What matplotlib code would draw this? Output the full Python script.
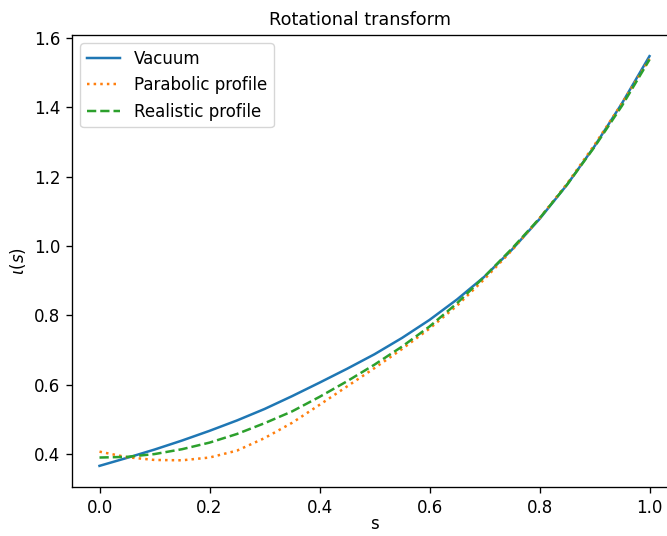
import matplotlib
matplotlib.use("Agg")
import matplotlib.pyplot as plt

s = [0.0, 0.05, 0.1, 0.15, 0.2, 0.25, 0.3, 0.35, 0.4, 0.45, 0.5,
     0.55, 0.6, 0.65, 0.7, 0.75, 0.8, 0.85, 0.9, 0.95, 1.0]

vacuum = [0.366, 0.389, 0.413, 0.439, 0.467, 0.497, 0.530, 0.567, 0.606, 0.646, 0.688,
          0.735, 0.787, 0.846, 0.912, 0.990, 1.078, 1.177, 1.288, 1.412, 1.548]

parabolic = [0.407, 0.391, 0.383, 0.382, 0.390, 0.410, 0.446, 0.490, 0.542, 0.595, 0.648,
             0.703, 0.762, 0.828, 0.905, 0.988, 1.080, 1.180, 1.292, 1.412, 1.540]

realistic = [0.390, 0.392, 0.400, 0.414, 0.433, 0.458, 0.489, 0.523, 0.565, 0.610, 0.658,
             0.710, 0.768, 0.835, 0.912, 0.993, 1.080, 1.177, 1.286, 1.405, 1.538]

k = 1.2
plt.rcParams.update({
    'font.size': 10 * k,
    'axes.linewidth': 0.8 * k,
    'xtick.major.width': 0.8 * k,
    'ytick.major.width': 0.8 * k,
    'xtick.major.size': 3.5 * k,
    'ytick.major.size': 3.5 * k,
    'xtick.major.pad': 3.5 * k,
    'ytick.major.pad': 3.5 * k,
    'lines.linewidth': 1.5 * k,
})

fig = plt.figure(figsize=(6.67, 5.36), dpi=100)
ax = fig.add_axes([72 / 667, (536 - 487) / 536, (677 - 72) / 667, (487 - 35) / 536])

ax.plot(s, vacuum, '-', color='#1f77b4', label='Vacuum')
ax.plot(s, parabolic, ':', color='#ff7f0e', label='Parabolic profile')
ax.plot(s, realistic, '--', color='#2ca02c', label='Realistic profile')

ax.set_xlim(-0.05, 1.05)
ax.set_ylim(0.305, 1.609)
ax.set_title('Rotational transform', fontsize=12.7, pad=7, x=(360 - 72) / 605)
ax.set_xlabel('s', labelpad=-1)
ax.set_ylabel(r'$\iota(s)$')
ax.legend(loc='upper left')

fig.savefig('out.png', dpi=100)
